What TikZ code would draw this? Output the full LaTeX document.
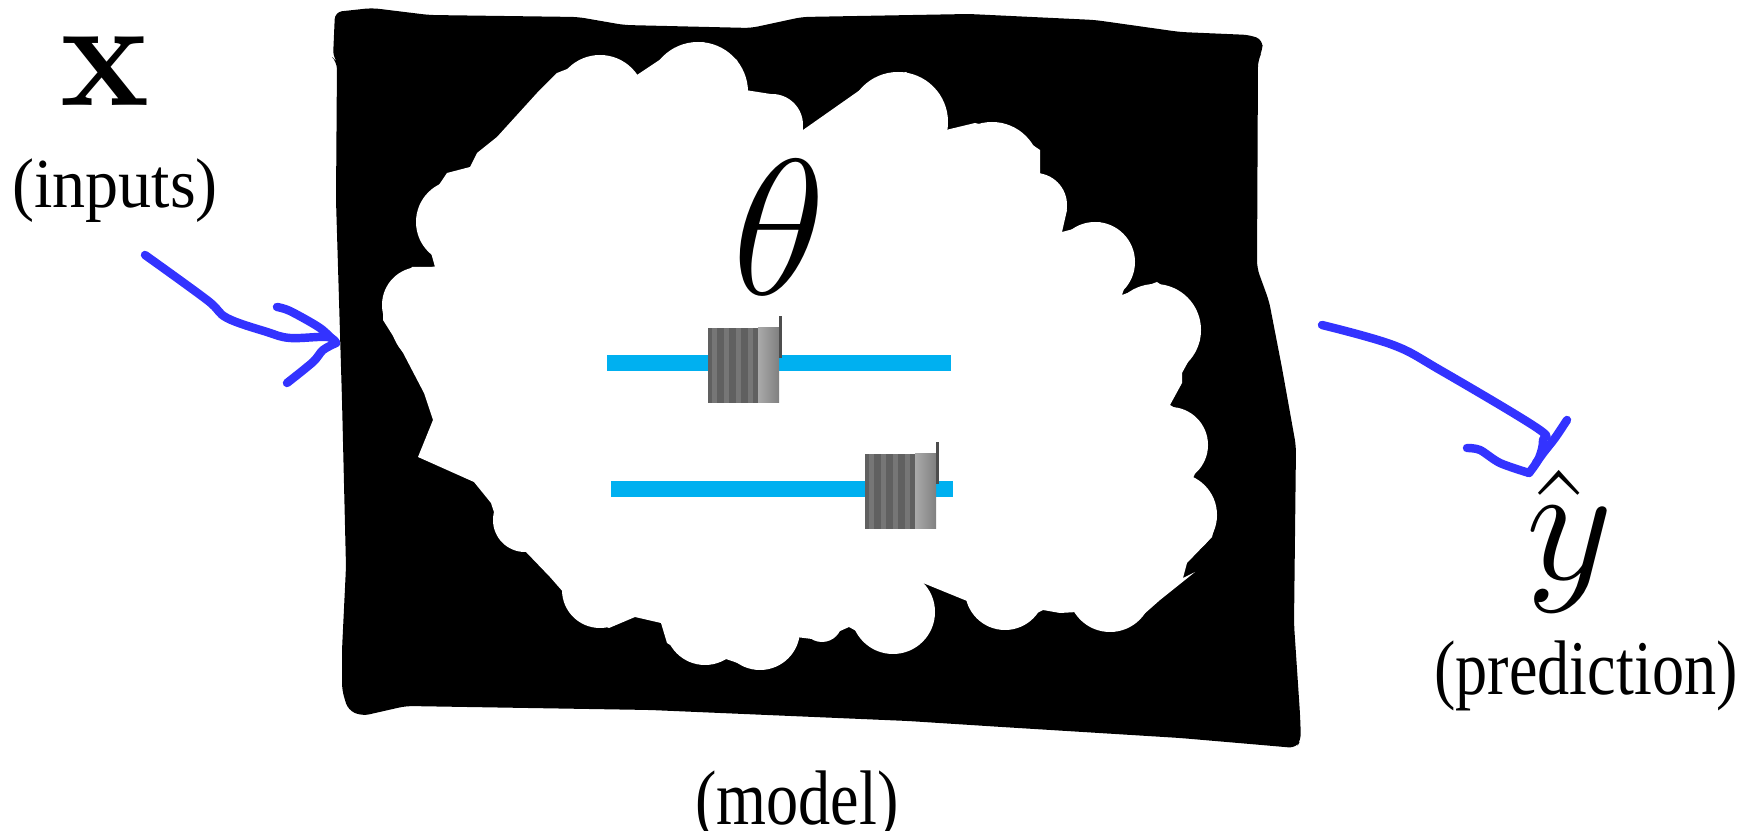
\RequirePackage{fix-cm}
\documentclass[tikz,border=0pt]{standalone}
\usepackage[no-math]{fontspec}
\setmainfont{Liberation Serif}
\usepackage{graphicx}
\definecolor{penblue}{RGB}{51,51,255}
\definecolor{barcyan}{RGB}{0,176,240}
\definecolor{knobdark}{RGB}{96,96,96}
\definecolor{knobstripe}{RGB}{118,118,118}
\definecolor{knoblight}{RGB}{170,170,170}

\begin{document}
\begin{tikzpicture}[x=0.01cm,y=-0.01cm,
  pen/.style={penblue,line width=2.4pt,line cap=round,line join=round},
  bar/.style={barcyan,line width=0.16cm},
  lbl/.style={inner sep=0pt,anchor=base}]
  \useasboundingbox (0,0) rectangle (1748,831);
  % the model box
  \fill[black,rounded corners=2pt] (335,12) -- (372,8) -- (429,15) -- (578,17) -- (624,25)
    -- (751,28) -- (802,17) -- (969,14) -- (1095,20) -- (1180,32) -- (1250,35)
    -- (1263,40) -- (1262,52) -- (1258,60) -- (1257,268) -- (1269,301) -- (1282,368)
    -- (1296,446) -- (1294,624) -- (1300,714) -- (1301,740) -- (1296,748) -- (1250,744)
    -- (1180,738) -- (1002,727) -- (908,721) -- (650,710) -- (406,706) -- (362,716)
    -- (348,710) -- (342,690) -- (342,650) -- (346,567) -- (342,400) -- (336,200)
    -- (337,62) -- (333,58) -- cycle;
  % the cloud
  \fill[white] (418,457) -- (433,420) -- (424,393) -- (400,347) -- (383,320) -- (383,300)
    -- (412,267) -- (435,267) -- (420,213) -- (447,173) -- (470,167) -- (477,153)
    -- (497,137) -- (537,93) -- (557,73) -- (603,55) -- (637,75) -- (670,53) -- (703,42)
    -- (737,60) -- (745,90) -- (777,95) -- (800,117) -- (803,130) -- (850,97) -- (870,83)
    -- (906,72) -- (946,110) -- (946,130) -- (975,123) -- (1015,133) -- (1040,150)
    -- (1040,173) -- (1067,210) -- (1062,232) -- (1100,222) -- (1133,260) -- (1122,295)
    -- (1157,282) -- (1193,307) -- (1200,340) -- (1182,373) -- (1182,383) -- (1170,405)
    -- (1200,423) -- (1207,447) -- (1193,478) -- (1213,503) -- (1217,517) -- (1212,537)
    -- (1187,563) -- (1183,578) -- (1195,572) -- (1160,600) -- (1143,615) -- (1113,632)
    -- (1077,612) -- (1060,613) -- (1043,610) -- (1008,628) -- (972,603) -- (923,583)
    -- (931,617) -- (896,653) -- (849,627) -- (820,640) -- (796,637) -- (758,670)
    -- (726,659) -- (703,665) -- (667,643) -- (661,623) -- (635,617) -- (609,628)
    -- (585,617) -- (550,577) -- (526,552) -- (503,540) -- (491,503) -- (474,482) -- cycle;
  \foreach \cx/\cy/\r in {442/318/52, 420/305/38, 458/222/42, 600/100/45, 698/92/50,
      772/125/31, 898/122/50, 992/170/48, 1035/205/32, 1095/262/40, 1155/330/46,
      1170/445/38, 1175/515/42, 1110/590/42, 1005/590/40, 893/612/42, 822/622/20,
      760/630/40, 705/625/40, 600/590/38, 525/520/32}
    \fill[white] (\cx,\cy) circle[radius=\r];
  % sliders
  \draw[bar] (607,363) -- (951,363);
  \draw[bar] (611,489) -- (953,489);
  \foreach \kx/\ky in {708/328, 865/454} {
    \fill[knobdark] (\kx,\ky) rectangle +(50,75);
    \foreach \s in {4,16,28,40}
      \fill[knobstripe] (\kx+\s,\ky) rectangle +(5,75);
    \shade[left color=knoblight,right color=knobdark!80] (\kx+50,\ky) rectangle +(21,75);
    \fill[knobdark!80!black] (\kx+71,\ky-12) rectangle +(3,42);
  }
  % labels
  \node[lbl] (xin) at (105,106) {\fontsize{44}{48}\selectfont\scalebox{0.97}[1]{$\mathbf{x}$}};
  \node[lbl] (inputs) at (115,208) {\fontsize{20}{24}\selectfont\scalebox{0.94}[1]{(inputs)}};
  \node[lbl] (theta) at (779,295) {\fontsize{55}{60}\selectfont$\theta$};
  \node[lbl] (yhat) at (1570,580) {\fontsize{48}{52}\selectfont\rlap{\kern-3pt\raisebox{-2pt}{$\hat{\phantom{y}}$}}$y$};
  \node[lbl] (prediction) at (1586,695) {\fontsize{22}{26}\selectfont\scalebox{0.83}[1]{(prediction)}};
  \node[lbl] (model) at (797,824) {\fontsize{22}{26}\selectfont\scalebox{0.83}[1]{(model)}};
  % hand drawn arrows
  \coordinate (inStart) at (145,255);
  \coordinate (inTip) at (336,343);
  \draw[pen] plot[smooth,tension=0.6] coordinates {(inStart) (207,300) (227,318) (267,332) (290,338) (327,337) (inTip)};
  \draw[pen] plot[smooth] coordinates {(277,307) (290,311) (320,328) (inTip)};
  \draw[pen] plot[smooth] coordinates {(inTip) (323,350) (313,362) (287,383)};
  \coordinate (outStart) at (1322,325);
  \coordinate (outTip) at (1529,473);
  \draw[pen] plot[smooth,tension=0.6] coordinates {(outStart) (1393,345) (1440,370) (1537,428) (1543,440) (1539,458) (outTip)};
  \draw[pen] plot[smooth] coordinates {(1467,448) (1480,450) (1500,463) (outTip)};
  \draw[pen] plot[smooth] coordinates {(1567,420) (1555,438) (1544,452) (1536,463)};
\end{tikzpicture}
\end{document}
